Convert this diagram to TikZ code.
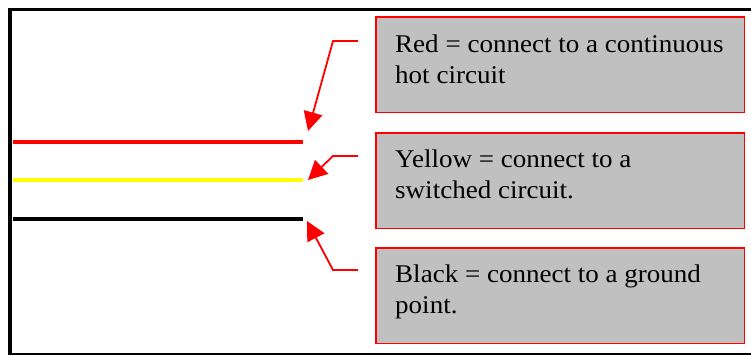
\documentclass[tikz,border=0pt]{standalone}
\usepackage{fontspec}
\setmainfont{Liberation Serif}[FakeStretch=1.06]
\usetikzlibrary{arrows.meta}
\definecolor{boxgray}{HTML}{C0C0C0}
\definecolor{wirered}{HTML}{FF0000}
\definecolor{wireyellow}{HTML}{FFFF00}
\tikzset{
  note/.style={draw=wirered, line width=1.6pt, fill=boxgray, anchor=north west,
    minimum width=368.5pt, minimum height=95.5pt, inner sep=0pt},
  notetext/.style={anchor=base west, inner sep=0pt, align=left,
    font=\fontsize{25.5}{31}\selectfont},
  wire/.style={line width=3.8pt},
  callout/.style={draw=wirered, line width=1.8pt, -{Triangle[length=19pt,width=19pt]}, color=wirered}
}
\begin{document}
\begin{tikzpicture}[x=1pt,y=-1pt]
\useasboundingbox (0,0) rectangle (751,354);
\node[draw, line width=3.3pt, minimum width=760pt, minimum height=345pt, anchor=north west, inner sep=0pt] (frame) at (8.3,7.5) {};
\node[note] (b1) at (375,16) {};
\node[note] (b2) at (375,132) {};
\node[note] (b3) at (375,247) {};
\node[notetext] (b1t) at (395,83.3) {Red = connect to a continuous\\hot circuit};
\node[notetext] (b2t) at (395,198.5) {Yellow = connect to a\\switched circuit.};
\node[notetext] (b3t) at (395,313.5) {Black = connect to a ground\\point.};
\coordinate (rs) at (12.7,142); \coordinate (re) at (303,142);
\coordinate (ys) at (12.7,180); \coordinate (ye) at (303,180);
\coordinate (ks) at (12.7,219); \coordinate (ke) at (303,219);
\draw[wire, wirered] (rs) -- (re);
\draw[wire, wireyellow] (ys) -- (ye);
\draw[wire, black] (ks) -- (ke);
\coordinate (c1) at (358,41); \coordinate (k1) at (333,41); \coordinate (t1) at (308,131);
\coordinate (c2) at (358,156); \coordinate (k2) at (333,156); \coordinate (t2) at (308,180);
\coordinate (c3) at (358,270); \coordinate (k3) at (333,270); \coordinate (t3) at (307,221);
\draw[callout] (c1) -- (k1) -- (t1);
\draw[callout] (c2) -- (k2) -- (t2);
\draw[callout] (c3) -- (k3) -- (t3);
\end{tikzpicture}
\end{document}
